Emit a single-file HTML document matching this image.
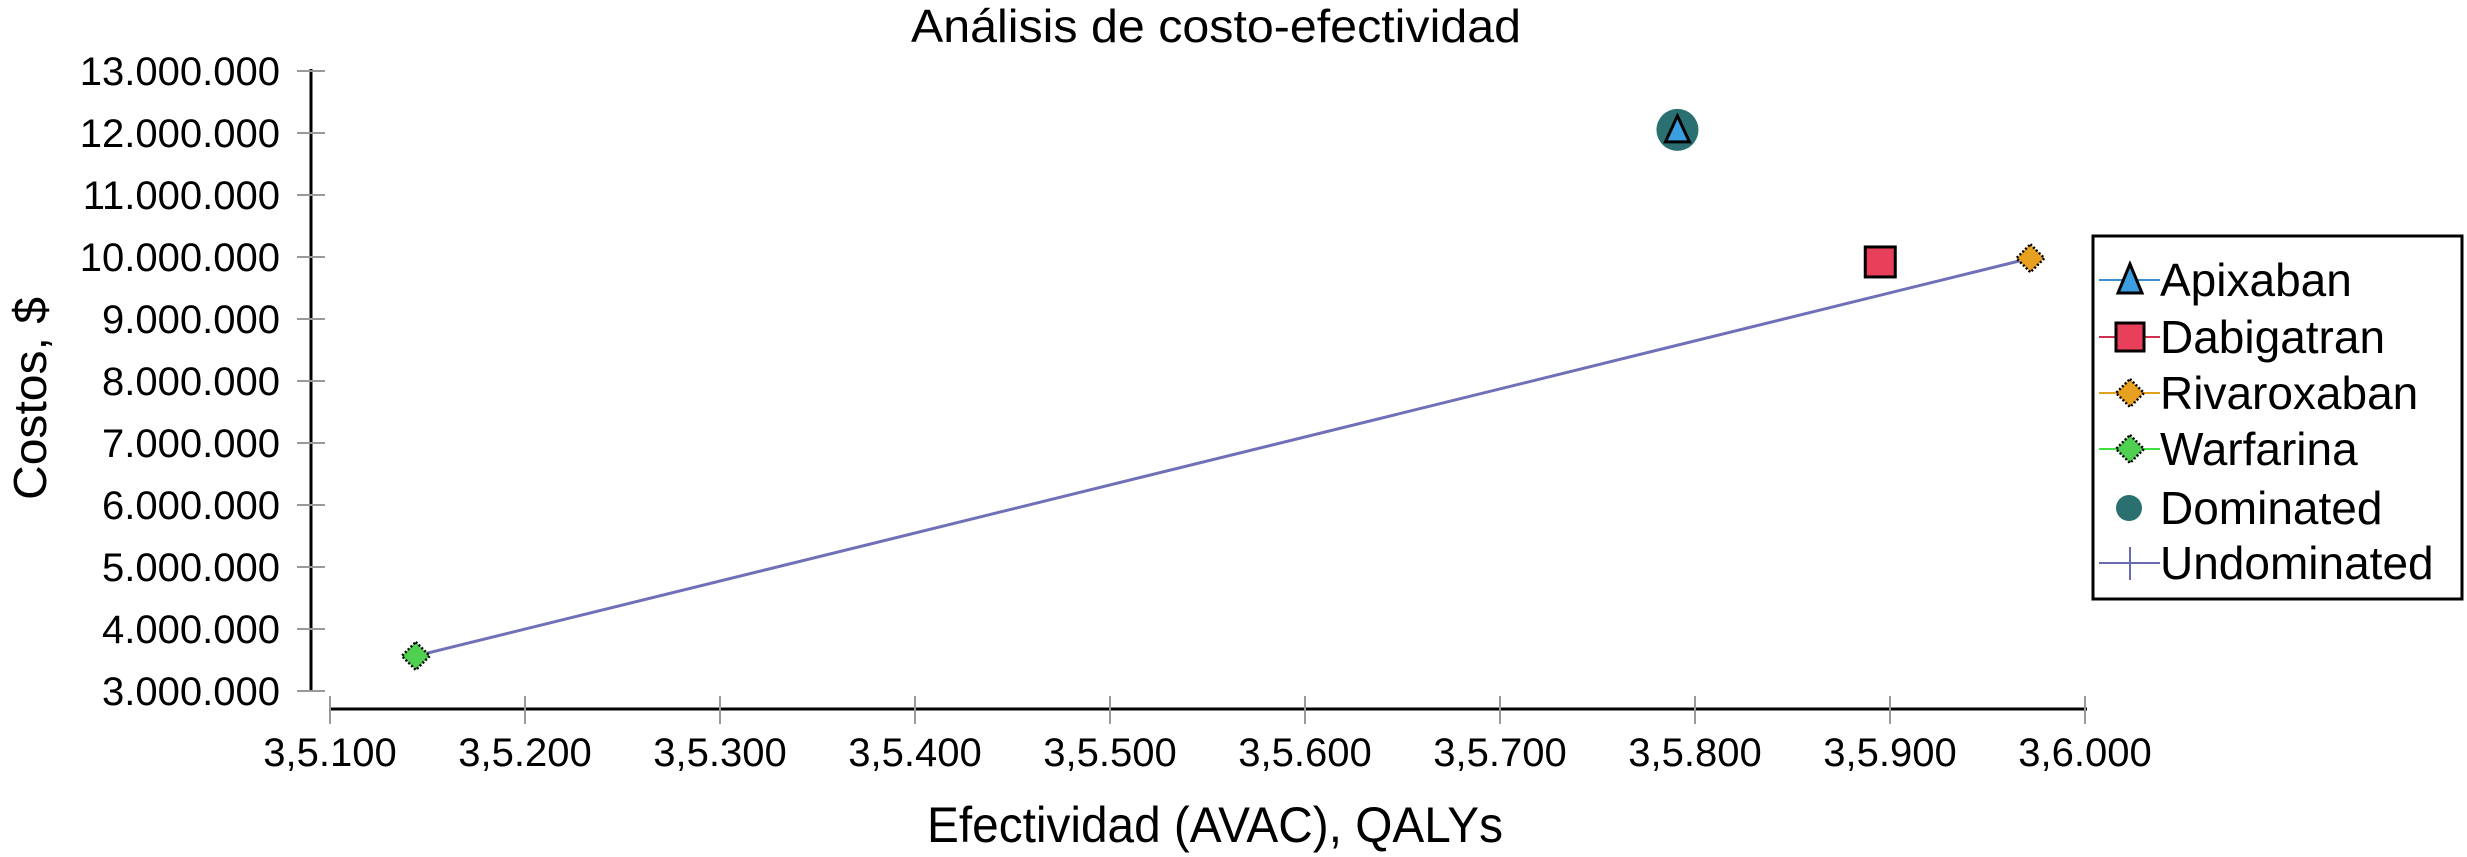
<!DOCTYPE html>
<html><head><meta charset="utf-8"><style>
html,body{margin:0;padding:0;background:#fff;}
svg{display:block;font-family:"Liberation Sans",Arial,sans-serif;}
</style></head><body>
<svg id="chart" width="2467" height="857" viewBox="0 0 2467 857">
<text x="1216" y="42" font-size="46" text-anchor="middle" textLength="610" lengthAdjust="spacingAndGlyphs">Análisis de costo-efectividad</text>
<text x="1215" y="842" font-size="50" text-anchor="middle" textLength="576" lengthAdjust="spacingAndGlyphs">Efectividad (AVAC), QALYs</text>
<text transform="translate(46,500) rotate(-90)" font-size="46" textLength="203" lengthAdjust="spacingAndGlyphs">Costos, $</text>
<g id="axes"></g>
<g id="marks"></g>
<g>
<rect x="2093" y="236" width="369" height="363" fill="#fff" stroke="#000" stroke-width="3"/>
<g>
<line x1="2099" y1="280" x2="2160" y2="280" stroke="#3a8fd0" stroke-width="2"/>
<polygon points="2130,264 2118,293 2142,293" fill="#3b9ee0" stroke="#000" stroke-width="3"/>
<text x="2160" y="296" font-size="46">Apixaban</text></g>
<g>
<line x1="2099" y1="337" x2="2160" y2="337" stroke="#d03050" stroke-width="2"/>
<rect x="2116" y="323" width="28" height="28" fill="#e8405a" stroke="#000" stroke-width="3"/>
<text x="2160" y="353" font-size="46">Dabigatran</text></g>
<g>
<line x1="2099" y1="393" x2="2160" y2="393" stroke="#e0a020" stroke-width="2"/>
<polygon points="2130,379 2144,393 2130,407 2116,393" fill="#e8a020" stroke="#000" stroke-width="2.5" stroke-dasharray="2 2"/>
<text x="2160" y="409" font-size="46">Rivaroxaban</text></g>
<g>
<line x1="2099" y1="449" x2="2160" y2="449" stroke="#40e040" stroke-width="2"/>
<polygon points="2130,435 2144,449 2130,463 2116,449" fill="#50d050" stroke="#000" stroke-width="2.5" stroke-dasharray="2 2"/>
<text x="2160" y="465" font-size="46">Warfarina</text></g>
<g>
<circle cx="2129" cy="508" r="13" fill="#2a7070"/>
<text x="2160" y="524" font-size="46">Dominated</text></g>
<g>
<line x1="2099" y1="563" x2="2160" y2="563" stroke="#6a6ab0" stroke-width="2"/>
<line x1="2130" y1="547" x2="2130" y2="580" stroke="#6a6ab0" stroke-width="2"/>
<text x="2160" y="579" font-size="46">Undominated</text></g>
</g>
</svg>
<script>
const names = ["Apixaban","Dabigatran","Rivaroxaban","Warfarina"];
const effectiveness = [3.5791, 3.5895, 3.5972, 3.5144];
const costs = [12050000, 9920000, 9980000, 3565000];
const frontierNames = ["Warfarina","Rivaroxaban"];
const dominatedNames = ["Apixaban"];
const xTicks = [3.51,3.52,3.53,3.54,3.55,3.56,3.57,3.58,3.59,3.60];
const xTickLabels = ["3,5.100","3,5.200","3,5.300","3,5.400","3,5.500","3,5.600","3,5.700","3,5.800","3,5.900","3,6.000"];
const yTicks = [3e6,4e6,5e6,6e6,7e6,8e6,9e6,10e6,11e6,12e6,13e6];
const yTickLabels = ["3.000.000","4.000.000","5.000.000","6.000.000","7.000.000","8.000.000","9.000.000","10.000.000","11.000.000","12.000.000","13.000.000"];

const NS="http://www.w3.org/2000/svg";
function xs(v){return 330+(v-3.51)/0.01*195;}
function ys(v){return 691-(v-3e6)/1e6*62;}
function mk(tag,attrs,parent){const e=document.createElementNS(NS,tag);for(const k in attrs)e.setAttribute(k,attrs[k]);parent.appendChild(e);return e;}
const axes=document.getElementById('axes'), marks=document.getElementById('marks');
let e;
e=mk('line',{x1:311,y1:ys(13e6)-2,x2:311,y2:692,stroke:'#000','stroke-width':3},axes);


e=mk('line',{x1:329,y1:709,x2:xs(3.60)+2,y2:709,stroke:'#000','stroke-width':3},axes);


yTicks.forEach((v,i)=>{
  const t=mk('line',{x1:297,y1:ys(v),x2:325,y2:ys(v),stroke:'#999','stroke-width':2},axes);
  
  
  const l=mk('text',{x:280,y:ys(v)+14,'font-size':40,'text-anchor':'end'},axes);
  l.textContent=yTickLabels[i];
  
  
});
xTicks.forEach((v,i)=>{
  const t=mk('line',{x1:xs(v),y1:696,x2:xs(v),y2:724,stroke:'#999','stroke-width':2},axes);
  
  
  const l=mk('text',{x:xs(v),y:766,'font-size':40,'text-anchor':'middle'},axes);
  l.textContent=xTickLabels[i];
  
  
});
const fi=frontierNames.map(n=>names.indexOf(n));
e=mk('polyline',{points:fi.map(i=>xs(effectiveness[i])+','+ys(costs[i])).join(' '),fill:'none',stroke:'#7070b8','stroke-width':3},marks);


dominatedNames.forEach(n=>{const i=names.indexOf(n);
  const c=mk('circle',{cx:xs(effectiveness[i]),cy:ys(costs[i]),r:21,fill:'#2a7070'},marks);
  
  
});
names.forEach((n,i)=>{
  const x=xs(effectiveness[i]), y=ys(costs[i]); let m;
  if(n==="Apixaban") m=mk('polygon',{points:`${x},${y-14} ${x-12},${y+12} ${x+12},${y+12}`,fill:'#3b9ee0',stroke:'#000','stroke-width':3},marks);
  else if(n==="Dabigatran") m=mk('rect',{x:x-15,y:y-15,width:30,height:30,fill:'#e8405a',stroke:'#000','stroke-width':3},marks);
  else if(n==="Rivaroxaban") m=mk('polygon',{points:`${x},${y-14} ${x+14},${y} ${x},${y+14} ${x-14},${y}`,fill:'#e8a020',stroke:'#000','stroke-width':2.5,'stroke-dasharray':'2 2'},marks);
  else m=mk('polygon',{points:`${x},${y-14} ${x+14},${y} ${x},${y+14} ${x-14},${y}`,fill:'#50d050',stroke:'#000','stroke-width':2.5,'stroke-dasharray':'2 2'},marks);
  
  
});
</script>
</body></html>
